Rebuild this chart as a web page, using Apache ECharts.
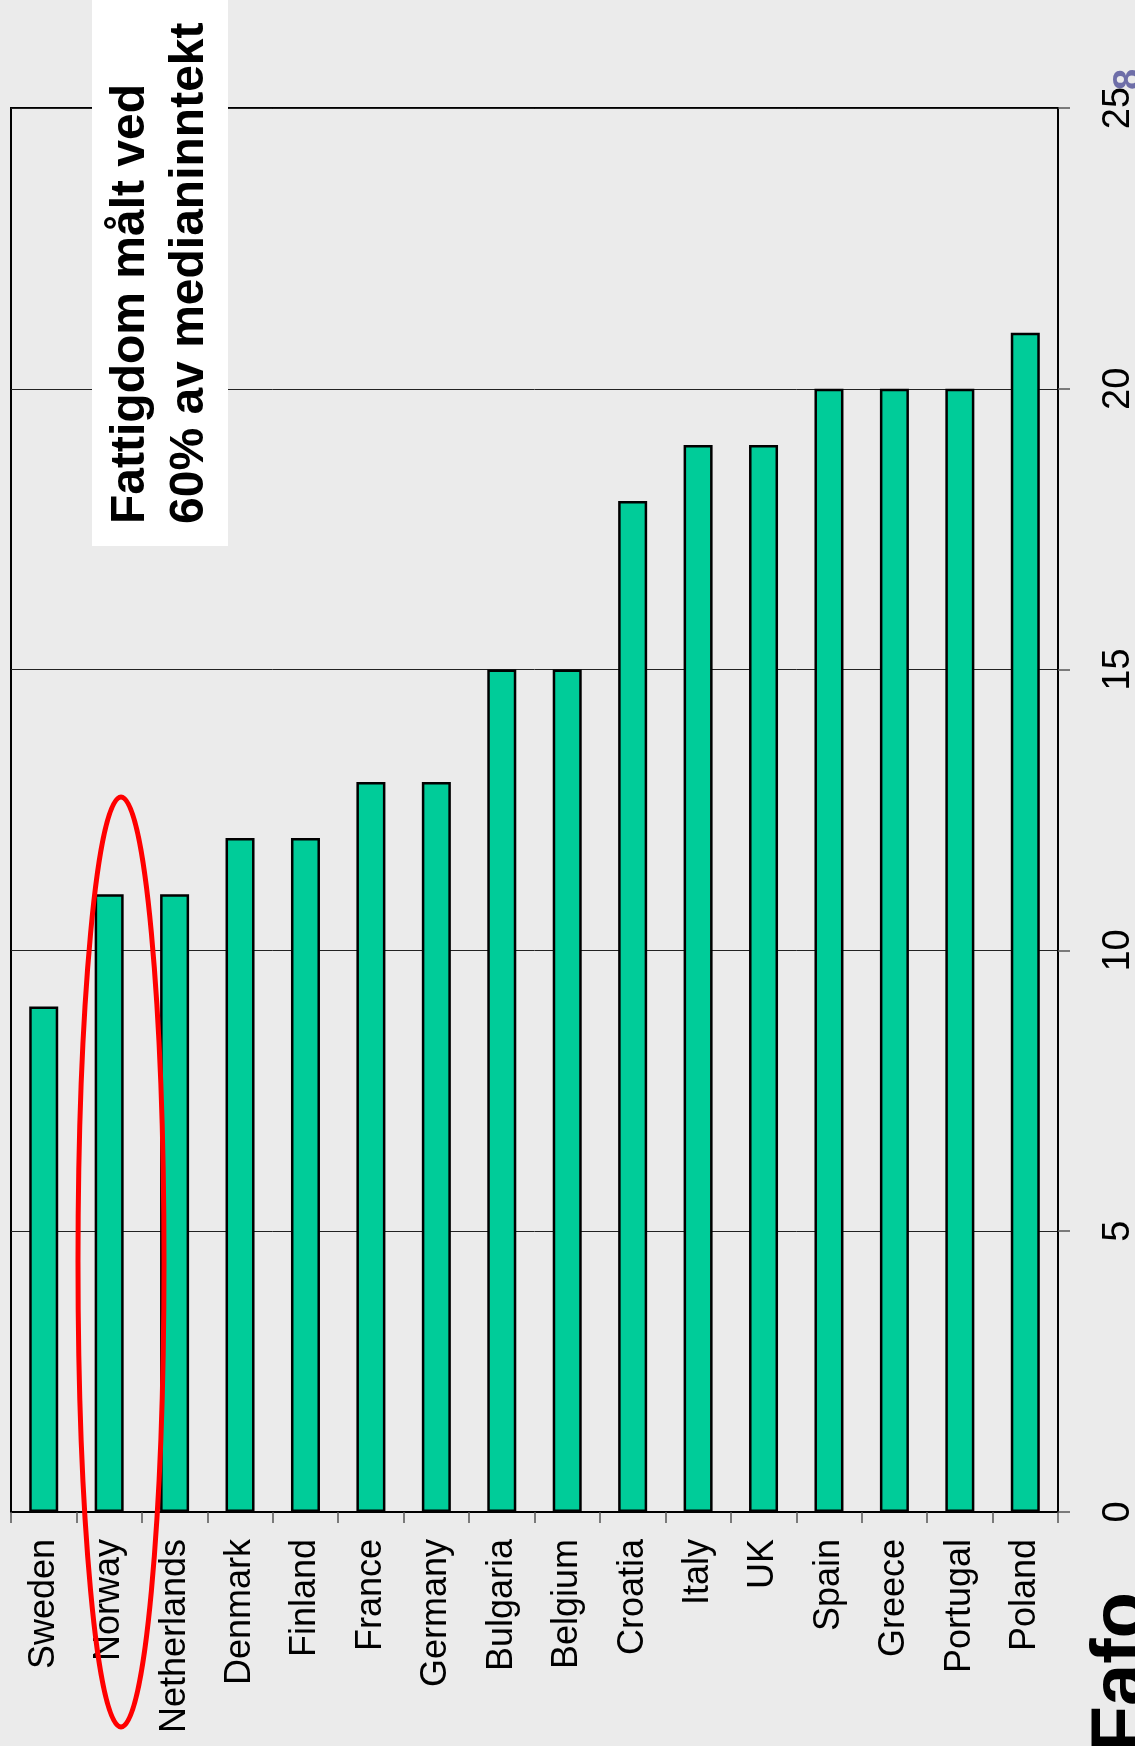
<!DOCTYPE html>
<html>
<head>
<meta charset="utf-8">
<script src="https://cdn.jsdelivr.net/npm/echarts@6/dist/echarts.min.js"></script>
<style>
  html, body { margin: 0; padding: 0; background: #ebebeb; }
  #chart { width: 1135px; height: 1746px; }
</style>
</head>
<body>
<div id="chart"></div>
<script>
// land og andel fattige (%), 60% av medianinntekt
var countries = ['Sweden', 'Norway', 'Netherlands', 'Denmark', 'Finland', 'France', 'Germany',
  'Bulgaria', 'Belgium', 'Croatia', 'Italy', 'UK', 'Spain', 'Greece', 'Portugal', 'Poland'];
var poverty = [9, 11, 11, 12, 12, 13, 13, 15, 15, 18, 19, 19, 20, 20, 20, 21];
var valueTicks = [0, 5, 10, 15, 20, 25];

var titleLines = ['Fattigdom målt ved', '60% av medianinntekt'];

var font = '"Liberation Sans", Arial, sans-serif';
var barColor = '#00cc99';

var myChart = echarts.init(document.getElementById('chart'));

var option = {
  backgroundColor: '#ebebeb',
  animation: false,
  grid: {
    left: 11,
    right: 77,
    top: 108,
    bottom: 234,
    outerBoundsMode: 'none',
    show: true,
    borderColor: '#000',
    borderWidth: 2,
    backgroundColor: 'transparent'
  },
  xAxis: {
    type: 'category',
    data: countries,
    axisLine: { show: true, lineStyle: { color: '#000', width: 2 } },
    axisTick: { show: true, length: 11, lineStyle: { color: '#555', width: 1.5 } },
    axisLabel: {
      rotate: 90,
      margin: 27,
      fontSize: 36,
      color: '#000',
      fontFamily: font,
      interval: 0
    }
  },
  yAxis: {
    type: 'value',
    position: 'right',
    min: valueTicks[0],
    max: valueTicks[valueTicks.length - 1],
    interval: 5,
    axisLine: { show: true, lineStyle: { color: '#000', width: 2 } },
    axisTick: { show: true, length: 12, lineStyle: { color: '#555', width: 1.5 } },
    splitLine: { show: true, lineStyle: { color: '#222', width: 1 } },
    axisLabel: {
      rotate: 90,
      margin: 42,
      fontSize: 38,
      color: '#000',
      fontFamily: font
    }
  },
  series: [{
    type: 'bar',
    data: poverty,
    barWidth: 29,
    itemStyle: { color: barColor, borderColor: '#000', borderWidth: 2.5 }
  }],
  graphic: [
    // tittel i hvit boks
    { type: 'rect', shape: { x: 92, y: 0, width: 136, height: 546 }, style: { fill: '#fff' }, z: 100 },
    {
      type: 'text', x: 131, y: 524, rotation: Math.PI / 2, z: 101,
      style: { text: titleLines[0], font: 'bold 48px ' + font, fill: '#000',
        align: 'left', verticalAlign: 'middle', textAlign: 'left', textVerticalAlign: 'middle' }
    },
    {
      type: 'text', x: 190, y: 524, rotation: Math.PI / 2, z: 101,
      style: { text: titleLines[1], font: 'bold 48px ' + font, fill: '#000',
        align: 'left', verticalAlign: 'middle', textAlign: 'left', textVerticalAlign: 'middle' }
    },
    // rød ring rundt Norge
    {
      type: 'ellipse', z: 102,
      shape: { cx: 121, cy: 1262, rx: 43, ry: 465 },
      style: { fill: 'none', stroke: '#ff0000', lineWidth: 5 }
    },
    // sidenummer
    {
      type: 'text', x: 1130, y: 90, rotation: Math.PI / 2, z: 101,
      style: { text: '8', font: 'bold 38px ' + font, fill: '#6e6ea8',
        align: 'left', verticalAlign: 'middle', textAlign: 'left', textVerticalAlign: 'middle' }
    },
    // logo
    {
      type: 'text', x: 1123, y: 1592, rotation: Math.PI / 2, z: 101,
      style: { text: 'Fafo', font: 'bold 76px ' + font, fill: '#000',
        align: 'right', verticalAlign: 'middle', textAlign: 'right', textVerticalAlign: 'middle' }
    }
  ]
};

myChart.setOption(option);
</script>
</body>
</html>
